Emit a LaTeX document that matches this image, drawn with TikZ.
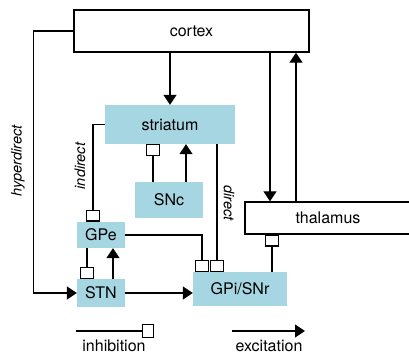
\documentclass[tikz,border=0pt]{standalone}
\usepackage{fontspec}
\setmainfont{TeX Gyre Heros}
\definecolor{BGblue}{HTML}{A7D6E3}
\usetikzlibrary{arrows.meta,positioning}

\begin{document}
\begin{tikzpicture}[x=1pt,y=-1pt,
    region/.style={fill=BGblue,inner sep=0pt,font=\fontsize{16}{18}\selectfont},
    outer/.style={draw,line width=1.4pt,fill=white,inner sep=0pt,font=\fontsize{16}{18}\selectfont},
    excit/.style={line width=1.3pt,-{Triangle[length=10pt,width=13pt]}},
    inhib/.style={line width=1.3pt,-{Square[length=12pt,width=14pt,fill=white]}},
    pathlabel/.style={font=\fontsize{14.5}{16}\selectfont\itshape}]
  \useasboundingbox (0,0) rectangle (409,355);
  \clip (0,0) rectangle (409,355);
  % nuclei
  \node[outer,minimum width=235pt,minimum height=42pt] (cortex) at (191.5,31) {cortex};
  \node[outer,minimum width=166pt,minimum height=32pt] (thalamus) at (328,218) {thalamus};
  \node[region,minimum width=130pt,minimum height=39pt] (striatum) at (170,124.5) {striatum};
  \node[region,minimum width=68pt,minimum height=36pt] (SNc) at (169,200) {SNc};
  \node[region,minimum width=48pt,minimum height=26pt] (GPe) at (101,235) {GPe};
  \node[region,minimum width=48pt,minimum height=28pt] (STN) at (101,293) {STN};
  \node[region,minimum width=94pt,minimum height=34pt] (GPi) at (240,289) {GPi/SNr};
  % projections
  \draw[excit] (cortex.south -| striatum.north) -- (striatum.north);
  \draw[excit] (cortex.west) -- ++(-40,0) |- (STN.west);
  \draw[inhib] (striatum.west) -| ([xshift=-8pt]GPe.north);
  \draw[inhib] ([xshift=-16pt]SNc.north) -- ([xshift=-16pt]SNc.north |- striatum.south);
  \draw[excit] ([xshift=17pt]SNc.north) -- ([xshift=17pt]SNc.north |- striatum.south);
  \draw[inhib] ([xshift=47pt]striatum.south) -- ([xshift=-23pt]GPi.north);
  \draw[inhib] (GPe.east) -| ([xshift=-38pt]GPi.north);
  \draw[inhib] ([xshift=-14pt]GPe.south) -- ([xshift=-14pt]STN.north);
  \draw[excit] ([xshift=12pt]STN.north) -- ([xshift=12pt]GPe.south);
  \draw[excit] (STN.east) -- (STN.east -| GPi.west);
  \draw[inhib] ([xshift=32pt]GPi.north) -- ([xshift=32pt]GPi.north |- thalamus.south);
  \draw[excit] ([xshift=-58pt]thalamus.north |- cortex.south) -- ([xshift=-58pt]thalamus.north);
  \draw[excit] ([xshift=-32pt]thalamus.north) -- ([xshift=-32pt]thalamus.north |- cortex.south);
  % pathway names
  \node[pathlabel,rotate=90] (hyper) at (18,161) {hyperdirect};
  \node[pathlabel,rotate=90] (indir) at (80,166) {indirect};
  \node[pathlabel,rotate=-90] (dir) at (229,203) {direct};
  % legend
  \coordinate (inhA) at (76,331);
  \coordinate (inhB) at (154,331);
  \coordinate (excA) at (232,331);
  \coordinate (excB) at (305,331);
  \draw[inhib] (inhA) -- (inhB);
  \draw[excit] (excA) -- (excB);
  \node[font=\fontsize{16}{18}\selectfont] (inhtxt) at (114,346) {inhibition};
  \node[font=\fontsize{16}{18}\selectfont] (exctxt) at (269,346) {excitation};
\end{tikzpicture}
\end{document}
